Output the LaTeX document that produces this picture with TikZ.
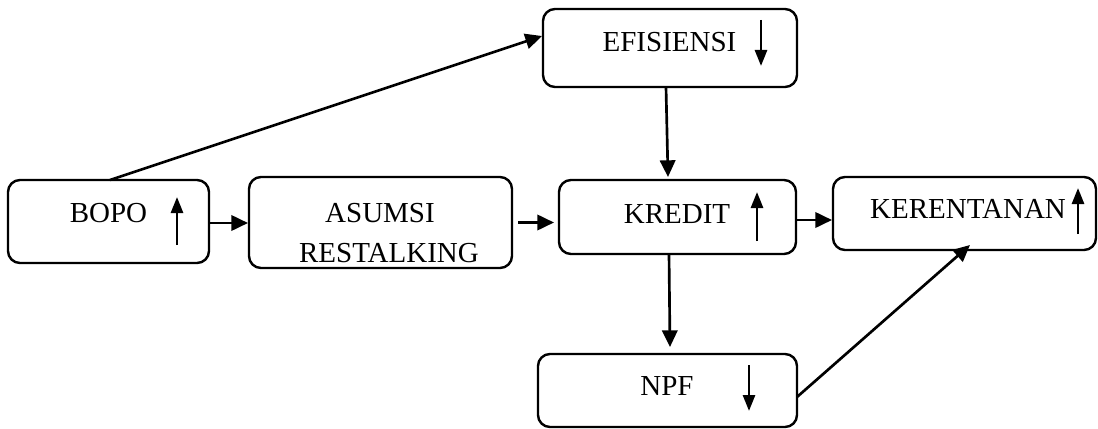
\documentclass[tikz,border=0pt]{standalone}
\usepackage{fontspec}
\setmainfont{Liberation Serif}
\usetikzlibrary{arrows.meta}
\begin{document}
\begin{tikzpicture}[x=0.75pt,y=-0.75pt,
  box/.style 2 args={draw,line width=1.8pt,rounded corners=9pt,
    minimum width=#1*0.75pt,minimum height=#2*0.75pt,inner sep=0pt,outer sep=0pt},
  lbl/.style={anchor=base,inner sep=0pt,font=\fontsize{21.75pt}{30pt}\selectfont},
  conn/.style={line width=2pt,-{Triangle[length=12.5pt,width=11.5pt]}},
  ind/.style={line width=2pt,-{Triangle[length=12pt,width=9pt]}}]
\useasboundingbox (0,0) rectangle (1098,428);
% boxes
\node[box={201}{83}] (bopo) at (108.5,221.5) {};
\node[box={263}{91}] (asumsi) at (380.5,222.5) {};
\node[box={254}{78}] (efi) at (670,48) {};
\node[box={237}{74}] (kredit) at (677.5,217) {};
\node[box={263}{73}] (keren) at (964.5,213.5) {};
\node[box={259}{73}] (npf) at (667.5,390.5) {};
% texts
\node[lbl] (tbopo) at (108.5,222) {BOPO};
\node[lbl] (tasumsi) at (380,222) {ASUMSI};
\node[lbl] (trest) at (389,262) {RESTALKING};
\node[lbl] (tefi) at (669.5,52) {EFISIENSI};
\node[lbl] (tkredit) at (677,223) {KREDIT};
\node[lbl] (tkeren) at (968,218) {KERENTANAN};
\node[lbl] (tnpf) at (667,395) {NPF};
% indicator arrows
\draw[ind] (177,245) -- (177,197);
\draw[ind] (761,20) -- (761,66);
\draw[ind] (757,241) -- (757,192);
\draw[ind] (1078,234) -- (1078,188);
\draw[ind] (749,365) -- (749,411);
% connectors
\draw[conn] ([xshift=1.5*0.75pt]bopo.north) -- ([yshift=12*0.75pt,xshift=-1*0.75pt]efi.west);
\draw[conn] ([yshift=-1.5*0.75pt]bopo.east) -- ([yshift=-1.5*0.75pt,xshift=-1*0.75pt]bopo.east -| asumsi.west);
\draw[conn] ([xshift=6*0.75pt]asumsi.east) -- ([xshift=-5*0.75pt]asumsi.east -| kredit.west);
\draw[conn] ([xshift=-4*0.75pt]efi.south) -- ([xshift=-9.5*0.75pt,yshift=3*0.75pt]kredit.north);
\draw[conn] ([yshift=-3*0.75pt]kredit.east) -- ([yshift=-3*0.75pt,xshift=-1*0.75pt]kredit.east -| keren.west);
\draw[conn] ([xshift=-8.5*0.75pt]kredit.south) -- ([xshift=2.5*0.75pt,yshift=7*0.75pt]npf.north);
\draw[conn] ([yshift=-6.5*0.75pt]npf.east) -- ([xshift=5.5*0.75pt,yshift=5*0.75pt]keren.south);
\end{tikzpicture}
\end{document}
